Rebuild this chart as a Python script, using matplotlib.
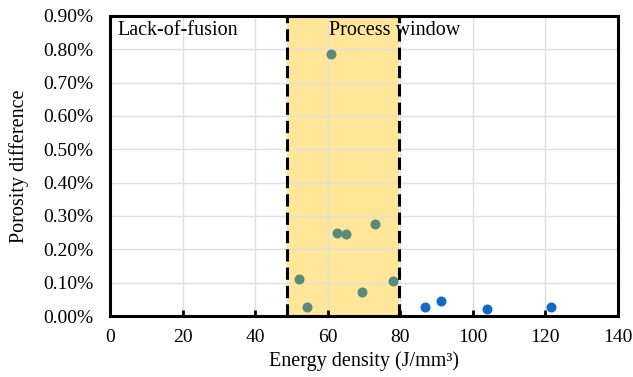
import matplotlib
matplotlib.use("Agg")
import matplotlib.pyplot as plt
from matplotlib.ticker import FuncFormatter, MultipleLocator

plt.rcParams['font.family'] = ['Liberation Serif', 'DejaVu Serif']

# Process-window samples (green)
pw_energy = [60.8, 62.5, 65.1, 72.9, 52.1, 78.0, 69.4, 54.2]
pw_porosity = [0.785, 0.250, 0.246, 0.275, 0.110, 0.105, 0.072, 0.026]

# Higher-energy samples (blue)
hi_energy = [86.8, 91.1, 104.0, 121.4]
hi_porosity = [0.026, 0.045, 0.021, 0.028]

window_lo, window_hi = 48.8, 79.7
x_ticks = [0, 20, 40, 60, 80, 100, 120, 140]

fig = plt.figure(figsize=(6.33, 3.77), dpi=100)
ax = fig.add_axes([0.1738, 0.1618, 0.8025, 0.7958])

ax.axvspan(window_lo, window_hi, color='#FFE699', zorder=0.5, lw=0)
ax.axvline(window_lo, color='black', lw=2.2, ls=(0, (4, 2)), zorder=3)
ax.axvline(window_hi, color='black', lw=2.2, ls=(0, (4, 2)), zorder=3)

ax.scatter(pw_energy, pw_porosity, s=52, color='#5A8A7A', zorder=4, lw=0)
ax.scatter(hi_energy, hi_porosity, s=52, color='#106BC6', zorder=4, lw=0)

ax.set_xlim(0, 140)
ax.set_ylim(0, 0.9)
ax.set_xticks(x_ticks)
ax.yaxis.set_major_locator(MultipleLocator(0.1))
ax.yaxis.set_major_formatter(FuncFormatter(lambda v, p: f"{v:.2f}%"))
ax.grid(True, color='#E0E0E0', lw=1, zorder=0)
ax.set_axisbelow(True)

for s in ax.spines.values():
    s.set_linewidth(2.2)
    s.set_color('black')

ax.tick_params(axis='x', direction='in', length=4, width=2, labelsize=14, pad=9)
ax.tick_params(axis='y', length=0, labelsize=14, pad=12)

ax.set_xlabel('Energy density (J/mm³)', fontsize=14.5, labelpad=4)
ax.set_ylabel('Porosity difference', fontsize=14.5, labelpad=10)

ax.text(2, 0.885, 'Lack-of-fusion', fontsize=14.5, va='top', ha='left')
ax.text(60.3, 0.885, 'Process window', fontsize=14.5, va='top', ha='left')

fig.savefig('out.png', dpi=100)
